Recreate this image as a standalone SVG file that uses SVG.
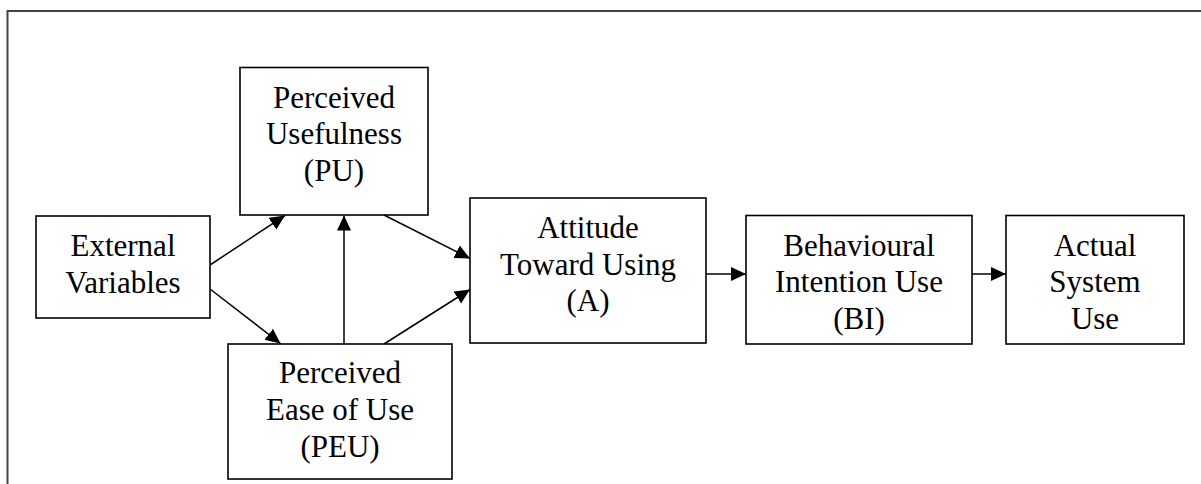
<svg xmlns="http://www.w3.org/2000/svg" width="1201" height="484" viewBox="0 0 1201 484">
  <style>
    .box { fill: #ffffff; stroke: #000000; stroke-width: 1.6; }
    .lbl { font-family: "Liberation Serif", "Times New Roman", serif; font-size: 31px; fill: #000000; text-anchor: middle; }
    .conn { stroke: #000000; stroke-width: 1.5; fill: none; marker-end: url(#arrow); }
    .frame { stroke: #444444; stroke-width: 2; fill: none; }
  </style>
  <defs>
    <marker id="arrow" markerUnits="userSpaceOnUse" markerWidth="16" markerHeight="15" refX="15" refY="7" orient="auto">
      <path d="M0,0 L15,7 L0,14 Z" fill="#000000"/>
    </marker>
  </defs>
  <rect x="0" y="0" width="1201" height="484" fill="#ffffff"/>
  <path class="frame" d="M7.5,484 V11 H1201"/>

  <g id="connectors">
    <line class="conn" x1="210" y1="265" x2="285" y2="215.5"/>
    <line class="conn" x1="210" y1="289" x2="280.5" y2="343.5"/>
    <line class="conn" x1="344" y1="344" x2="344" y2="215.5"/>
    <line class="conn" x1="384" y1="215" x2="470" y2="258.5"/>
    <line class="conn" x1="384" y1="344" x2="470" y2="289.5"/>
    <line class="conn" x1="706" y1="274" x2="746" y2="274"/>
    <line class="conn" x1="972" y1="274" x2="1006" y2="274"/>
  </g>

  <g id="external-variables">
    <rect class="box" x="36" y="216" width="174" height="102"/>
    <text class="lbl" x="123" y="255.5">External</text>
    <text class="lbl" x="123" y="292.5">Variables</text>
  </g>

  <g id="perceived-usefulness">
    <rect class="box" x="240" y="67.5" width="188" height="147.5"/>
    <text class="lbl" x="334" y="107.5">Perceived</text>
    <text class="lbl" x="334" y="144">Usefulness</text>
    <text class="lbl" x="334" y="180.5">(PU)</text>
  </g>

  <g id="perceived-ease-of-use">
    <rect class="box" x="228" y="344" width="224" height="135"/>
    <text class="lbl" x="340" y="383">Perceived</text>
    <text class="lbl" x="340" y="420">Ease of Use</text>
    <text class="lbl" x="340" y="456.5">(PEU)</text>
  </g>

  <g id="attitude">
    <rect class="box" x="470" y="198" width="236" height="145"/>
    <text class="lbl" x="588" y="238">Attitude</text>
    <text class="lbl" x="588" y="274.5">Toward Using</text>
    <text class="lbl" x="588" y="311">(A)</text>
  </g>

  <g id="behavioural-intention">
    <rect class="box" x="746" y="215.5" width="226" height="128.5"/>
    <text class="lbl" x="859" y="255.5">Behavioural</text>
    <text class="lbl" x="859" y="292">Intention Use</text>
    <text class="lbl" x="859" y="328.5">(BI)</text>
  </g>

  <g id="actual-system-use">
    <rect class="box" x="1006" y="215.5" width="178" height="128.5"/>
    <text class="lbl" x="1095" y="255.5">Actual</text>
    <text class="lbl" x="1095" y="292">System</text>
    <text class="lbl" x="1095" y="328.5">Use</text>
  </g>
</svg>
